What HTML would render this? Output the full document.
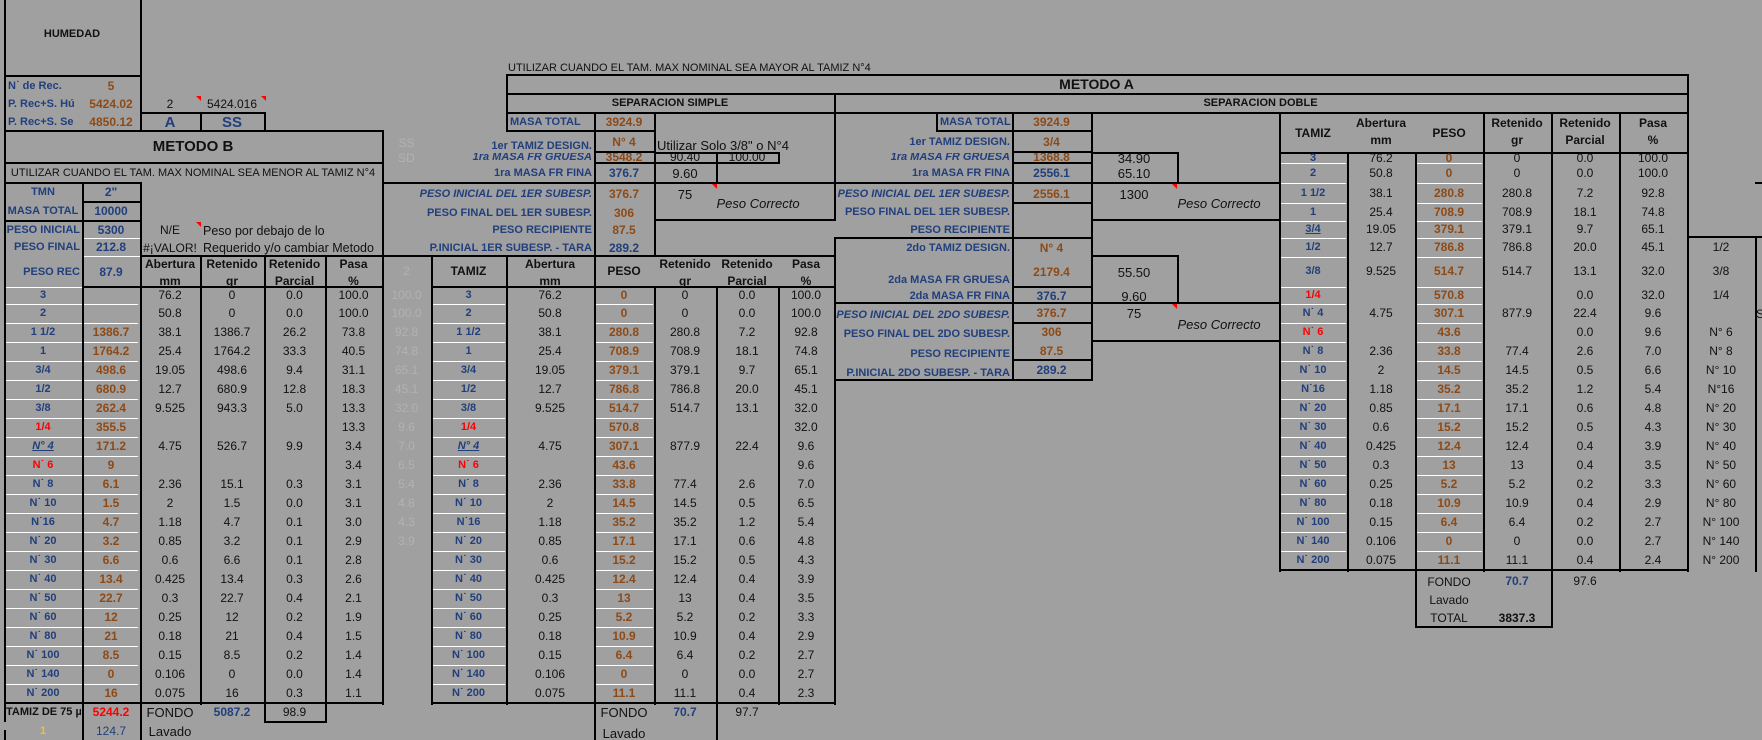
<!DOCTYPE html>
<html><head><meta charset="utf-8">
<style>
body{margin:0;background:#a0a0a0;}
#p{position:relative;width:1762px;height:740px;overflow:hidden;background:#a0a0a0;font-family:"Liberation Sans",Arial,sans-serif;font-size:12px;color:#111;}
.t{position:absolute;white-space:nowrap;line-height:19px;height:19px;}
.c{text-align:center}
.rt{text-align:right}
.B{color:#213f7c;font-weight:bold}
.O{color:#8e4a16;font-weight:bold}
.R{color:#f00;font-weight:bold}
.K{font-weight:bold}
.I{font-style:italic}
.L{font-size:11px}
.h{position:absolute;height:2px;background:#000}
.v{position:absolute;width:2px;background:#000}
.w{position:absolute;height:1px;background:#fff}
.row{position:absolute;left:0;width:1762px;height:19px;line-height:19px}
.row i{position:absolute;top:0;font-style:normal;text-align:center;white-space:nowrap}
.a{left:4px;width:78px}.b{left:82px;width:58px}.cc{left:140px;width:60px}.d{left:200px;width:64px}.e{left:264px;width:61px}.f{left:325px;width:57px}
.g{left:382px;width:49px;color:#b2b2b2}
.ma{left:431px;width:75px}.mb{left:506px;width:88px}.mc{left:594px;width:60px}.md{left:654px;width:62px}.me{left:716px;width:62px}.mf{left:778px;width:56px}
.ra{left:1279px;width:68px}.rb{left:1347px;width:68px}.rc{left:1415px;width:68px}.rd{left:1483px;width:68px}.re{left:1551px;width:68px}.rf{left:1619px;width:68px}.rg{left:1687px;width:68px}
.row i.B{color:#213f7c;font-weight:bold}.row i.O{color:#8e4a16;font-weight:bold}.row i.R{color:#f00;font-weight:bold}
.row i.a,.row i.ma,.row i.ra{font-size:11px}
.hd{position:absolute;text-align:center;font-weight:bold;line-height:17px;white-space:nowrap}
.tri{position:absolute;width:0;height:0;border-top:5px solid #f00;border-left:5px solid transparent}
.wl{position:absolute;background:repeating-linear-gradient(to bottom,#fff 0,#fff 1px,transparent 1px,transparent 19px)}
</style></head><body><div id="p">

<div class="wl" style="left:6px;top:304px;width:132px;height:399px"></div>
<div class="wl" style="left:433px;top:304px;width:72px;height:399px"></div>
<div class="wl" style="left:596px;top:304px;width:57px;height:399px"></div>
<div class="wl" style="left:1281px;top:304px;width:65px;height:266px"></div>
<div class="wl" style="left:1417px;top:304px;width:65px;height:266px"></div>
<div class="w" style="left:1281px;top:163px;width:65px"></div><div class="w" style="left:1417px;top:163px;width:65px"></div>
<div class="w" style="left:1281px;top:183px;width:65px"></div><div class="w" style="left:1417px;top:183px;width:65px"></div>
<div class="w" style="left:1281px;top:203px;width:65px"></div><div class="w" style="left:1417px;top:203px;width:65px"></div>
<div class="w" style="left:1281px;top:221px;width:65px"></div><div class="w" style="left:1417px;top:221px;width:65px"></div>
<div class="w" style="left:1281px;top:238px;width:65px"></div><div class="w" style="left:1417px;top:238px;width:65px"></div>
<div class="w" style="left:1281px;top:257px;width:65px"></div><div class="w" style="left:1417px;top:257px;width:65px"></div>
<div class="w" style="left:1281px;top:287px;width:65px"></div><div class="w" style="left:1417px;top:287px;width:65px"></div>
<div class="w" style="left:84px;top:238px;width:56px"></div>
<div class="w" style="left:84px;top:256px;width:56px"></div>
<div class="w" style="left:6px;top:287px;width:76px"></div>

<div class="v" style="left:4px;top:0;height:722px"></div>
<div class="v" style="left:4px;top:730px;height:10px"></div>
<div class="v" style="left:140px;top:0;height:131px"></div>
<div class="h" style="left:4px;top:75px;width:138px"></div>
<div class="t c K" style="left:4px;top:25px;width:136px;font-size:11px">HUMEDAD</div>
<div class="t B L" style="left:8px;top:77px;">N˙ de Rec.</div>
<div class="t B L" style="left:8px;top:95px;">P. Rec+S. Hú</div>
<div class="t B L" style="left:8px;top:113px;">P. Rec+S. Se</div>
<div class="t c O" style="left:82px;top:77px;width:58px">5</div>
<div class="t c O" style="left:82px;top:95px;width:58px">5424.02</div>
<div class="t c O" style="left:82px;top:113px;width:58px">4850.12</div>
<div class="t c" style="left:140px;top:95px;width:60px">2</div>
<div class="t c" style="left:200px;top:95px;width:64px">5424.016</div>
<div class="tri" style="left:196px;top:96px"></div><div class="tri" style="left:261px;top:96px"></div>
<div class="h" style="left:140px;top:112px;width:126px"></div>
<div class="v" style="left:200px;top:112px;height:20px"></div>
<div class="v" style="left:264px;top:112px;height:20px"></div>
<div class="t c B" style="left:140px;top:113px;width:60px;font-size:15px">A</div>
<div class="t c B" style="left:200px;top:113px;width:64px;font-size:15px">SS</div>

<div class="h" style="left:4px;top:130px;width:380px"></div>
<div class="v" style="left:382px;top:130px;height:575px"></div>
<div class="t c K" style="left:4px;top:137px;width:378px;font-size:15px">METODO B</div>
<div class="h" style="left:4px;top:162px;width:380px"></div>
<div class="t c" style="left:4px;top:164px;width:378px;font-size:11px">UTILIZAR CUANDO EL TAM. MAX NOMINAL SEA MENOR AL TAMIZ N°4</div>
<div class="h" style="left:4px;top:182px;width:138px"></div>
<div class="h" style="left:382px;top:182px;width:452px"></div>
<div class="v" style="left:82px;top:182px;height:558px"></div>
<div class="v" style="left:140px;top:182px;height:558px"></div>
<div class="h" style="left:82px;top:201px;width:60px"></div>
<div class="h" style="left:4px;top:220px;width:138px"></div>
<div class="t c B L" style="left:4px;top:183px;width:78px">TMN</div>
<div class="t c B L" style="left:4px;top:202px;width:78px">MASA TOTAL</div>
<div class="t rt B L" style="left:4px;top:221px;width:76px">PESO INICIAL</div>
<div class="t rt B L" style="left:4px;top:238px;width:76px">PESO FINAL</div>
<div class="t rt B L" style="left:4px;top:263px;width:76px">PESO REC</div>
<div class="t c B" style="left:82px;top:183px;width:58px">2"</div>
<div class="t c B" style="left:82px;top:202px;width:58px">10000</div>
<div class="t c B" style="left:82px;top:221px;width:58px">5300</div>
<div class="t c B" style="left:82px;top:238px;width:58px">212.8</div>
<div class="t c B" style="left:82px;top:263px;width:58px">87.9</div>
<div class="t c" style="left:140px;top:221px;width:60px">N/E</div>
<div class="t c" style="left:140px;top:239px;width:60px">#¡VALOR!</div>
<div class="tri" style="left:196px;top:222px"></div>
<div class="t" style="left:203px;top:222px;font-size:12.5px">Peso por debajo de lo</div>
<div class="t" style="left:203px;top:239px;font-size:12.5px">Requerido y/o cambiar Metodo</div>

<div class="h" style="left:140px;top:255px;width:244px"></div>
<div class="h" style="left:82px;top:286px;width:302px"></div>
<div class="v" style="left:200px;top:255px;height:450px"></div>
<div class="v" style="left:264px;top:255px;height:468px"></div>
<div class="v" style="left:325px;top:255px;height:450px"></div>
<div class="hd" style="left:140px;top:256px;width:60px">Abertura<br>mm</div>
<div class="hd" style="left:200px;top:256px;width:64px">Retenido<br>gr</div>
<div class="hd" style="left:264px;top:256px;width:61px">Retenido<br>Parcial</div>
<div class="hd" style="left:325px;top:256px;width:57px">Pasa<br>%</div>
<div class="h" style="left:4px;top:702px;width:380px"></div>

<div class="t c" style="left:382px;top:134px;width:49px;color:#b2b2b2">SS</div>
<div class="t c" style="left:382px;top:149px;width:49px;color:#b2b2b2">SD</div>
<div class="t c" style="left:382px;top:262px;width:49px;color:#b2b2b2">2</div>

<div class="h" style="left:382px;top:255px;width:452px"></div>
<div class="v" style="left:431px;top:255px;height:450px"></div>
<div class="v" style="left:506px;top:255px;height:450px"></div>
<div class="v" style="left:594px;top:112px;height:628px"></div>
<div class="v" style="left:654px;top:112px;height:145px"></div>
<div class="v" style="left:654px;top:286px;height:419px"></div>
<div class="v" style="left:716px;top:286px;height:454px"></div>
<div class="v" style="left:778px;top:286px;height:419px"></div>
<div class="v" style="left:834px;top:93px;height:128px"></div>
<div class="v" style="left:834px;top:237px;height:468px"></div>
<div class="h" style="left:431px;top:286px;width:405px"></div>
<div class="h" style="left:431px;top:702px;width:405px"></div>

<div class="t" style="left:508px;top:59px;font-size:11px">UTILIZAR CUANDO EL TAM. MAX NOMINAL SEA MAYOR AL TAMIZ N°4</div>
<div class="h" style="left:506px;top:74px;width:1183px"></div>
<div class="h" style="left:506px;top:93px;width:1183px"></div>
<div class="h" style="left:506px;top:112px;width:1183px"></div>
<div class="v" style="left:506px;top:74px;height:58px"></div>
<div class="v" style="left:1687px;top:74px;height:498px"></div>
<div class="t c K" style="left:506px;top:75px;width:1181px;font-size:14px">METODO A</div>
<div class="t c K" style="left:506px;top:94px;width:328px;font-size:11px">SEPARACION SIMPLE</div>
<div class="t c K" style="left:834px;top:94px;width:853px;font-size:11px">SEPARACION DOBLE</div>

<div class="h" style="left:506px;top:130px;width:150px"></div>
<div class="h" style="left:594px;top:151px;width:62px"></div>
<div class="h" style="left:654px;top:152px;width:126px"></div>
<div class="v" style="left:716px;top:152px;height:31px"></div>
<div class="v" style="left:778px;top:152px;height:12px"></div>
<div class="h" style="left:594px;top:162px;width:186px"></div>
<div class="h" style="left:654px;top:219px;width:180px"></div>
<div class="t B L" style="left:510px;top:113px;">MASA TOTAL</div>
<div class="t rt B L" style="left:382px;top:137px;width:210px">1er TAMIZ DESIGN.</div>
<div style="position:absolute;left:382px;top:153px;width:210px;height:10px;overflow:hidden"><div class="t rt B I L" style="left:0;top:-5px;width:210px">1ra MASA FR GRUESA</div></div>
<div class="t rt B L" style="left:382px;top:164px;width:210px">1ra MASA FR FINA</div>
<div class="t rt B I L" style="left:382px;top:185px;width:210px">PESO INICIAL DEL 1ER SUBESP.</div>
<div class="t rt B L" style="left:382px;top:204px;width:210px">PESO FINAL DEL 1ER SUBESP.</div>
<div class="t rt B L" style="left:382px;top:221px;width:210px">PESO RECIPIENTE</div>
<div class="t rt B L" style="left:382px;top:239px;width:210px">P.INICIAL 1ER SUBESP. - TARA</div>
<div class="t c O" style="left:594px;top:113px;width:60px">3924.9</div>
<div class="t c O" style="left:594px;top:133px;width:60px">N° 4</div>
<div style="position:absolute;left:594px;top:153px;width:60px;height:10px;overflow:hidden"><div class="t c O" style="left:0;top:-5px;width:60px">3548.2</div></div>
<div class="t c B" style="left:594px;top:164px;width:60px">376.7</div>
<div class="t c O" style="left:594px;top:185px;width:60px">376.7</div>
<div class="t c O" style="left:594px;top:204px;width:60px">306</div>
<div class="t c O" style="left:594px;top:221px;width:60px">87.5</div>
<div class="t c B" style="left:594px;top:239px;width:60px">289.2</div>
<div class="t" style="left:657px;top:136px;font-size:13px">Utilizar Solo 3/8" o N°4</div>
<div style="position:absolute;left:654px;top:153px;width:124px;height:10px;overflow:hidden"><div class="t c" style="left:0;top:-5px;width:62px">90.40</div><div class="t c" style="left:62px;top:-5px;width:62px">100.00</div></div>
<div class="t c" style="left:654px;top:164px;width:62px;font-size:13px">9.60</div>
<div class="t c" style="left:654px;top:185px;width:62px;font-size:13px">75</div>
<div class="tri" style="left:712px;top:184px"></div>
<div class="t c I" style="left:716px;top:194px;width:84px;font-size:13px">Peso Correcto</div>

<div class="v" style="left:936px;top:112px;height:20px"></div>
<div class="h" style="left:936px;top:130px;width:155px"></div>
<div class="v" style="left:1012px;top:112px;height:269px"></div>
<div class="v" style="left:1091px;top:112px;height:269px"></div>
<div class="h" style="left:1012px;top:151px;width:81px"></div>
<div class="h" style="left:1091px;top:152px;width:88px"></div>
<div class="v" style="left:1177px;top:152px;height:31px"></div>
<div class="h" style="left:1012px;top:162px;width:81px"></div>
<div class="h" style="left:834px;top:182px;width:447px"></div>
<div class="h" style="left:1012px;top:202px;width:81px"></div>
<div class="h" style="left:1091px;top:219px;width:190px"></div>
<div class="h" style="left:834px;top:237px;width:259px"></div>
<div class="h" style="left:1091px;top:255px;width:88px"></div>
<div class="v" style="left:1177px;top:255px;height:49px"></div>
<div class="h" style="left:1012px;top:286px;width:81px"></div>
<div class="h" style="left:834px;top:302px;width:447px"></div>
<div class="h" style="left:1012px;top:322px;width:81px"></div>
<div class="h" style="left:1091px;top:340px;width:190px"></div>
<div class="h" style="left:1012px;top:359px;width:81px"></div>
<div class="h" style="left:834px;top:379px;width:259px"></div>
<div class="t B L" style="left:940px;top:113px;width:72px;overflow:hidden">MASA TOTAL</div>
<div class="t rt B L" style="left:800px;top:133px;width:210px">1er TAMIZ DESIGN.</div>
<div style="position:absolute;left:800px;top:153px;width:210px;height:10px;overflow:hidden"><div class="t rt B I L" style="left:0;top:-5px;width:210px">1ra MASA FR GRUESA</div></div>
<div class="t rt B L" style="left:800px;top:164px;width:210px">1ra MASA FR FINA</div>
<div class="t rt B I L" style="left:800px;top:185px;width:210px">PESO INICIAL DEL 1ER SUBESP.</div>
<div class="t rt B L" style="left:800px;top:203px;width:210px">PESO FINAL DEL 1ER SUBESP.</div>
<div class="t rt B L" style="left:800px;top:221px;width:210px">PESO RECIPIENTE</div>
<div class="t rt B L" style="left:800px;top:239px;width:210px">2do TAMIZ DESIGN.</div>
<div class="t rt B L" style="left:800px;top:271px;width:210px">2da MASA FR GRUESA</div>
<div class="t rt B L" style="left:800px;top:287px;width:210px">2da MASA FR FINA</div>
<div class="t rt B I L" style="left:790px;top:306px;width:220px">PESO INICIAL DEL 2DO SUBESP.</div>
<div class="t rt B L" style="left:800px;top:325px;width:210px">PESO FINAL DEL 2DO SUBESP.</div>
<div class="t rt B L" style="left:800px;top:345px;width:210px">PESO RECIPIENTE</div>
<div class="t rt B L" style="left:800px;top:364px;width:210px">P.INICIAL 2DO SUBESP. - TARA</div>
<div class="t c O" style="left:1012px;top:113px;width:79px">3924.9</div>
<div class="t c O" style="left:1012px;top:133px;width:79px">3/4</div>
<div style="position:absolute;left:1012px;top:153px;width:79px;height:10px;overflow:hidden"><div class="t c O" style="left:0;top:-5px;width:79px">1368.8</div></div>
<div class="t c B" style="left:1012px;top:164px;width:79px">2556.1</div>
<div class="t c O" style="left:1012px;top:185px;width:79px">2556.1</div>
<div class="t c O" style="left:1012px;top:239px;width:79px">N° 4</div>
<div class="t c O" style="left:1012px;top:263px;width:79px">2179.4</div>
<div class="t c B" style="left:1012px;top:287px;width:79px">376.7</div>
<div class="t c O" style="left:1012px;top:304px;width:79px">376.7</div>
<div class="t c O" style="left:1012px;top:323px;width:79px">306</div>
<div class="t c O" style="left:1012px;top:342px;width:79px">87.5</div>
<div class="t c B" style="left:1012px;top:361px;width:79px">289.2</div>
<div style="position:absolute;left:1091px;top:153px;width:86px;height:10px;overflow:hidden"><div class="t c" style="left:0;top:-4px;width:86px;font-size:13px">34.90</div></div>
<div class="t c" style="left:1091px;top:164px;width:86px;font-size:13px">65.10</div>
<div class="t c" style="left:1091px;top:185px;width:86px;font-size:13px">1300</div>
<div class="t c" style="left:1091px;top:263px;width:86px;font-size:13px">55.50</div>
<div class="t c" style="left:1091px;top:287px;width:86px;font-size:13px">9.60</div>
<div class="t c" style="left:1091px;top:304px;width:86px;font-size:13px">75</div>
<div class="tri" style="left:1172px;top:184px"></div>
<div class="tri" style="left:1172px;top:304px"></div>
<div class="t c I" style="left:1177px;top:194px;width:84px;font-size:13px">Peso Correcto</div>
<div class="t c I" style="left:1177px;top:315px;width:84px;font-size:13px">Peso Correcto</div>

<div class="v" style="left:1279px;top:112px;height:460px"></div>
<div class="h" style="left:1279px;top:152px;width:410px"></div>
<div class="v" style="left:1347px;top:152px;height:420px"></div>
<div class="v" style="left:1415px;top:152px;height:476px"></div>
<div class="v" style="left:1483px;top:112px;height:460px"></div>
<div class="v" style="left:1551px;top:112px;height:516px"></div>
<div class="v" style="left:1619px;top:112px;height:460px"></div>
<div class="h" style="left:1279px;top:569px;width:410px"></div>
<div class="h" style="left:1415px;top:626px;width:138px"></div>
<div class="h" style="left:1687px;top:236px;width:75px"></div>
<div class="v" style="left:1755px;top:236px;height:336px"></div>
<div class="h" style="left:1755px;top:182px;width:7px"></div>
<div class="t c K" style="left:1279px;top:124px;width:68px">TAMIZ</div>
<div class="hd" style="left:1347px;top:115px;width:68px">Abertura<br>mm</div>
<div class="t c K" style="left:1415px;top:124px;width:68px">PESO</div>
<div class="hd" style="left:1483px;top:115px;width:68px">Retenido<br>gr</div>
<div class="hd" style="left:1551px;top:115px;width:68px">Retenido<br>Parcial</div>
<div class="hd" style="left:1619px;top:115px;width:68px">Pasa<br>%</div>
<div class="t" style="left:1756px;top:305px">S</div>

<div class="t c K" style="left:431px;top:262px;width:75px">TAMIZ</div>
<div class="hd" style="left:506px;top:256px;width:88px">Abertura<br>mm</div>
<div class="t c K" style="left:594px;top:262px;width:60px">PESO</div>
<div class="hd" style="left:654px;top:256px;width:62px">Retenido<br>gr</div>
<div class="hd" style="left:716px;top:256px;width:62px">Retenido<br>Parcial</div>
<div class="hd" style="left:778px;top:256px;width:56px">Pasa<br>%</div>

<div class="row" style="top:287px;height:17px;line-height:17px"><i class="a B">3</i><i class="cc">76.2</i><i class="d">0</i><i class="e">0.0</i><i class="f">100.0</i><i class="g">100.0</i><i class="ma B">3</i><i class="mb">76.2</i><i class="mc O">0</i><i class="md">0</i><i class="me">0.0</i><i class="mf">100.0</i></div>
<div class="row" style="top:304px"><i class="a B">2</i><i class="cc">50.8</i><i class="d">0</i><i class="e">0.0</i><i class="f">100.0</i><i class="g">100.0</i><i class="ma B">2</i><i class="mb">50.8</i><i class="mc O">0</i><i class="md">0</i><i class="me">0.0</i><i class="mf">100.0</i></div>
<div class="row" style="top:323px"><i class="a B">1 1/2</i><i class="b O">1386.7</i><i class="cc">38.1</i><i class="d">1386.7</i><i class="e">26.2</i><i class="f">73.8</i><i class="g">92.8</i><i class="ma B">1 1/2</i><i class="mb">38.1</i><i class="mc O">280.8</i><i class="md">280.8</i><i class="me">7.2</i><i class="mf">92.8</i></div>
<div class="row" style="top:342px"><i class="a B">1</i><i class="b O">1764.2</i><i class="cc">25.4</i><i class="d">1764.2</i><i class="e">33.3</i><i class="f">40.5</i><i class="g">74.8</i><i class="ma B">1</i><i class="mb">25.4</i><i class="mc O">708.9</i><i class="md">708.9</i><i class="me">18.1</i><i class="mf">74.8</i></div>
<div class="row" style="top:361px"><i class="a B">3/4</i><i class="b O">498.6</i><i class="cc">19.05</i><i class="d">498.6</i><i class="e">9.4</i><i class="f">31.1</i><i class="g">65.1</i><i class="ma B">3/4</i><i class="mb">19.05</i><i class="mc O">379.1</i><i class="md">379.1</i><i class="me">9.7</i><i class="mf">65.1</i></div>
<div class="row" style="top:380px"><i class="a B">1/2</i><i class="b O">680.9</i><i class="cc">12.7</i><i class="d">680.9</i><i class="e">12.8</i><i class="f">18.3</i><i class="g">45.1</i><i class="ma B">1/2</i><i class="mb">12.7</i><i class="mc O">786.8</i><i class="md">786.8</i><i class="me">20.0</i><i class="mf">45.1</i></div>
<div class="row" style="top:399px"><i class="a B">3/8</i><i class="b O">262.4</i><i class="cc">9.525</i><i class="d">943.3</i><i class="e">5.0</i><i class="f">13.3</i><i class="g">32.0</i><i class="ma B">3/8</i><i class="mb">9.525</i><i class="mc O">514.7</i><i class="md">514.7</i><i class="me">13.1</i><i class="mf">32.0</i></div>
<div class="row" style="top:418px"><i class="a R">1/4</i><i class="b O">355.5</i><i class="f">13.3</i><i class="g">9.6</i><i class="ma R">1/4</i><i class="mc O">570.8</i><i class="mf">32.0</i></div>
<div class="row" style="top:437px"><i class="a B" style="font-style:italic;text-decoration:underline">N° 4</i><i class="b O">171.2</i><i class="cc">4.75</i><i class="d">526.7</i><i class="e">9.9</i><i class="f">3.4</i><i class="g">7.0</i><i class="ma B" style="font-style:italic;text-decoration:underline">N° 4</i><i class="mb">4.75</i><i class="mc O">307.1</i><i class="md">877.9</i><i class="me">22.4</i><i class="mf">9.6</i></div>
<div class="row" style="top:456px"><i class="a R">N˙ 6</i><i class="b O">9</i><i class="f">3.4</i><i class="g">6.5</i><i class="ma R">N˙ 6</i><i class="mc O">43.6</i><i class="mf">9.6</i></div>
<div class="row" style="top:475px"><i class="a B">N˙ 8</i><i class="b O">6.1</i><i class="cc">2.36</i><i class="d">15.1</i><i class="e">0.3</i><i class="f">3.1</i><i class="g">5.4</i><i class="ma B">N˙ 8</i><i class="mb">2.36</i><i class="mc O">33.8</i><i class="md">77.4</i><i class="me">2.6</i><i class="mf">7.0</i></div>
<div class="row" style="top:494px"><i class="a B">N˙ 10</i><i class="b O">1.5</i><i class="cc">2</i><i class="d">1.5</i><i class="e">0.0</i><i class="f">3.1</i><i class="g">4.8</i><i class="ma B">N˙ 10</i><i class="mb">2</i><i class="mc O">14.5</i><i class="md">14.5</i><i class="me">0.5</i><i class="mf">6.5</i></div>
<div class="row" style="top:513px"><i class="a B">N˙16</i><i class="b O">4.7</i><i class="cc">1.18</i><i class="d">4.7</i><i class="e">0.1</i><i class="f">3.0</i><i class="g">4.3</i><i class="ma B">N˙16</i><i class="mb">1.18</i><i class="mc O">35.2</i><i class="md">35.2</i><i class="me">1.2</i><i class="mf">5.4</i></div>
<div class="row" style="top:532px"><i class="a B">N˙ 20</i><i class="b O">3.2</i><i class="cc">0.85</i><i class="d">3.2</i><i class="e">0.1</i><i class="f">2.9</i><i class="g">3.9</i><i class="ma B">N˙ 20</i><i class="mb">0.85</i><i class="mc O">17.1</i><i class="md">17.1</i><i class="me">0.6</i><i class="mf">4.8</i></div>
<div class="row" style="top:551px"><i class="a B">N˙ 30</i><i class="b O">6.6</i><i class="cc">0.6</i><i class="d">6.6</i><i class="e">0.1</i><i class="f">2.8</i><i class="ma B">N˙ 30</i><i class="mb">0.6</i><i class="mc O">15.2</i><i class="md">15.2</i><i class="me">0.5</i><i class="mf">4.3</i></div>
<div class="row" style="top:570px"><i class="a B">N˙ 40</i><i class="b O">13.4</i><i class="cc">0.425</i><i class="d">13.4</i><i class="e">0.3</i><i class="f">2.6</i><i class="ma B">N˙ 40</i><i class="mb">0.425</i><i class="mc O">12.4</i><i class="md">12.4</i><i class="me">0.4</i><i class="mf">3.9</i></div>
<div class="row" style="top:589px"><i class="a B">N˙ 50</i><i class="b O">22.7</i><i class="cc">0.3</i><i class="d">22.7</i><i class="e">0.4</i><i class="f">2.1</i><i class="ma B">N˙ 50</i><i class="mb">0.3</i><i class="mc O">13</i><i class="md">13</i><i class="me">0.4</i><i class="mf">3.5</i></div>
<div class="row" style="top:608px"><i class="a B">N˙ 60</i><i class="b O">12</i><i class="cc">0.25</i><i class="d">12</i><i class="e">0.2</i><i class="f">1.9</i><i class="ma B">N˙ 60</i><i class="mb">0.25</i><i class="mc O">5.2</i><i class="md">5.2</i><i class="me">0.2</i><i class="mf">3.3</i></div>
<div class="row" style="top:627px"><i class="a B">N˙ 80</i><i class="b O">21</i><i class="cc">0.18</i><i class="d">21</i><i class="e">0.4</i><i class="f">1.5</i><i class="ma B">N˙ 80</i><i class="mb">0.18</i><i class="mc O">10.9</i><i class="md">10.9</i><i class="me">0.4</i><i class="mf">2.9</i></div>
<div class="row" style="top:646px"><i class="a B">N˙ 100</i><i class="b O">8.5</i><i class="cc">0.15</i><i class="d">8.5</i><i class="e">0.2</i><i class="f">1.4</i><i class="ma B">N˙ 100</i><i class="mb">0.15</i><i class="mc O">6.4</i><i class="md">6.4</i><i class="me">0.2</i><i class="mf">2.7</i></div>
<div class="row" style="top:665px"><i class="a B">N˙ 140</i><i class="b O">0</i><i class="cc">0.106</i><i class="d">0</i><i class="e">0.0</i><i class="f">1.4</i><i class="ma B">N˙ 140</i><i class="mb">0.106</i><i class="mc O">0</i><i class="md">0</i><i class="me">0.0</i><i class="mf">2.7</i></div>
<div class="row" style="top:684px"><i class="a B">N˙ 200</i><i class="b O">16</i><i class="cc">0.075</i><i class="d">16</i><i class="e">0.3</i><i class="f">1.1</i><i class="ma B">N˙ 200</i><i class="mb">0.075</i><i class="mc O">11.1</i><i class="md">11.1</i><i class="me">0.4</i><i class="mf">2.3</i></div>

<div class="v" style="left:325px;top:702px;height:21px"></div>
<div class="h" style="left:264px;top:721px;width:63px"></div>
<div style="position:absolute;left:4px;top:703px;width:77px;height:19px;overflow:hidden"><div class="t K" style="left:2px;top:0;font-size:11px">TAMIZ DE 75 µm</div></div>
<div class="row" style="top:703px"><i class="b R">5244.2</i><i class="cc" style="font-size:13px">FONDO</i><i class="d B">5087.2</i><i class="e">98.9</i><i class="mc" style="font-size:13px">FONDO</i><i class="md B">70.7</i><i class="me">97.7</i></div>
<div class="row" style="top:722px"><i class="a" style="color:#f2c21a;font-weight:bold">1</i><i class="b" style="color:#213f7c">124.7</i><i class="cc" style="font-size:13px">Lavado</i><i class="mc" style="font-size:13px;top:2px">Lavado</i></div>

<div class="row" style="top:153px;height:10px;line-height:10px;overflow:hidden"><i class="ra B">3</i><i class="rb">76.2</i><i class="rc O">0</i><i class="rd">0</i><i class="re">0.0</i><i class="rf">100.0</i></div>
<div class="row" style="top:164px"><i class="ra B">2</i><i class="rb">50.8</i><i class="rc O">0</i><i class="rd">0</i><i class="re">0.0</i><i class="rf">100.0</i></div>
<div class="row" style="top:184px"><i class="ra B">1 1/2</i><i class="rb">38.1</i><i class="rc O">280.8</i><i class="rd">280.8</i><i class="re">7.2</i><i class="rf">92.8</i></div>
<div class="row" style="top:203px"><i class="ra B">1</i><i class="rb">25.4</i><i class="rc O">708.9</i><i class="rd">708.9</i><i class="re">18.1</i><i class="rf">74.8</i></div>
<div class="row" style="top:220px"><i class="ra B" style="text-decoration:underline">3/4</i><i class="rb">19.05</i><i class="rc O">379.1</i><i class="rd">379.1</i><i class="re">9.7</i><i class="rf">65.1</i></div>
<div class="row" style="top:238px"><i class="ra B">1/2</i><i class="rb">12.7</i><i class="rc O">786.8</i><i class="rd">786.8</i><i class="re">20.0</i><i class="rf">45.1</i><i class="rg">1/2</i></div>
<div class="row" style="top:262px"><i class="ra B">3/8</i><i class="rb">9.525</i><i class="rc O">514.7</i><i class="rd">514.7</i><i class="re">13.1</i><i class="rf">32.0</i><i class="rg">3/8</i></div>
<div class="row" style="top:286px"><i class="ra R">1/4</i><i class="rc O">570.8</i><i class="re">0.0</i><i class="rf">32.0</i><i class="rg">1/4</i></div>
<div class="row" style="top:304px"><i class="ra B">N˙ 4</i><i class="rb">4.75</i><i class="rc O">307.1</i><i class="rd">877.9</i><i class="re">22.4</i><i class="rf">9.6</i></div>
<div class="row" style="top:323px"><i class="ra R">N˙ 6</i><i class="rc O">43.6</i><i class="re">0.0</i><i class="rf">9.6</i><i class="rg">N° 6</i></div>
<div class="row" style="top:342px"><i class="ra B">N˙ 8</i><i class="rb">2.36</i><i class="rc O">33.8</i><i class="rd">77.4</i><i class="re">2.6</i><i class="rf">7.0</i><i class="rg">N° 8</i></div>
<div class="row" style="top:361px"><i class="ra B">N˙ 10</i><i class="rb">2</i><i class="rc O">14.5</i><i class="rd">14.5</i><i class="re">0.5</i><i class="rf">6.6</i><i class="rg">N° 10</i></div>
<div class="row" style="top:380px"><i class="ra B">N˙16</i><i class="rb">1.18</i><i class="rc O">35.2</i><i class="rd">35.2</i><i class="re">1.2</i><i class="rf">5.4</i><i class="rg">N°16</i></div>
<div class="row" style="top:399px"><i class="ra B">N˙ 20</i><i class="rb">0.85</i><i class="rc O">17.1</i><i class="rd">17.1</i><i class="re">0.6</i><i class="rf">4.8</i><i class="rg">N° 20</i></div>
<div class="row" style="top:418px"><i class="ra B">N˙ 30</i><i class="rb">0.6</i><i class="rc O">15.2</i><i class="rd">15.2</i><i class="re">0.5</i><i class="rf">4.3</i><i class="rg">N° 30</i></div>
<div class="row" style="top:437px"><i class="ra B">N˙ 40</i><i class="rb">0.425</i><i class="rc O">12.4</i><i class="rd">12.4</i><i class="re">0.4</i><i class="rf">3.9</i><i class="rg">N° 40</i></div>
<div class="row" style="top:456px"><i class="ra B">N˙ 50</i><i class="rb">0.3</i><i class="rc O">13</i><i class="rd">13</i><i class="re">0.4</i><i class="rf">3.5</i><i class="rg">N° 50</i></div>
<div class="row" style="top:475px"><i class="ra B">N˙ 60</i><i class="rb">0.25</i><i class="rc O">5.2</i><i class="rd">5.2</i><i class="re">0.2</i><i class="rf">3.3</i><i class="rg">N° 60</i></div>
<div class="row" style="top:494px"><i class="ra B">N˙ 80</i><i class="rb">0.18</i><i class="rc O">10.9</i><i class="rd">10.9</i><i class="re">0.4</i><i class="rf">2.9</i><i class="rg">N° 80</i></div>
<div class="row" style="top:513px"><i class="ra B">N˙ 100</i><i class="rb">0.15</i><i class="rc O">6.4</i><i class="rd">6.4</i><i class="re">0.2</i><i class="rf">2.7</i><i class="rg">N° 100</i></div>
<div class="row" style="top:532px"><i class="ra B">N˙ 140</i><i class="rb">0.106</i><i class="rc O">0</i><i class="rd">0</i><i class="re">0.0</i><i class="rf">2.7</i><i class="rg">N° 140</i></div>
<div class="row" style="top:551px"><i class="ra B">N˙ 200</i><i class="rb">0.075</i><i class="rc O">11.1</i><i class="rd">11.1</i><i class="re">0.4</i><i class="rf">2.4</i><i class="rg">N° 200</i></div>
<div class="row" style="top:572px"><i class="rc" style="top:1px">FONDO</i><i class="rd B">70.7</i><i class="re">97.6</i></div>
<div class="row" style="top:591px"><i class="rc">Lavado</i></div>
<div class="row" style="top:609px"><i class="rc">TOTAL</i><i class="rd" style="font-weight:bold">3837.3</i></div>

</div></body></html>
